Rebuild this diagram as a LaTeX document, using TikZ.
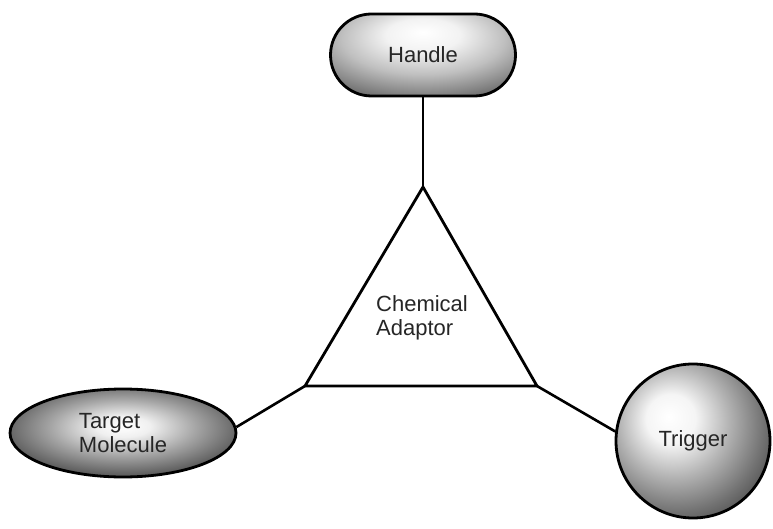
\documentclass[tikz,border=0pt]{standalone}
\usepackage{fontspec}
\setmainfont{Liberation Sans}
\usetikzlibrary{shapes.geometric,shapes.misc}
\pgfdeclareradialshading{ballshade}{\pgfpoint{-8bp}{8bp}}{color(0bp)=(white); color(8bp)=(white!96!black); color(18bp)=(black!30); color(28bp)=(black!55); color(38bp)=(black!78); color(47bp)=(black!92); color(80bp)=(black)}
\pgfdeclareradialshading{pillshade}{\pgfpoint{0bp}{14bp}}{color(0bp)=(white); color(10bp)=(white!95!black); color(22bp)=(black!25); color(32bp)=(black!48); color(42bp)=(black!72); color(52bp)=(black!90); color(80bp)=(black)}
\pgfdeclareradialshading{ovalshade}{\pgfpoint{0bp}{4bp}}{color(0bp)=(white); color(6bp)=(white!94!black); color(16bp)=(black!35); color(26bp)=(black!62); color(36bp)=(black!85); color(46bp)=(black!95); color(80bp)=(black)}
\tikzset{
  lbl/.style={font=\fontsize{22}{24}\selectfont, text=black!85},
  blob/.style={lbl, draw=black, line width=2.8pt, inner sep=0pt},
  conn/.style={line width=2.6pt, draw=black},
}
\begin{document}
\begin{tikzpicture}[x=1pt,y=-1pt]
\useasboundingbox (0,0) rectangle (773,529);
\node[blob, rounded rectangle, shading=pillshade, minimum width=185pt, minimum height=82pt] (handle) at (423,55) {Handle};
\node[blob, ellipse, shading=ovalshade, minimum width=226pt, minimum height=88pt, align=left] (target) at (123,433) {Target\\Molecule};
\node[blob, circle, shading=ballshade, minimum size=154pt] (trigger) at (693,441) {Trigger};
\coordinate (apex) at (423,187);
\coordinate (bl) at (305,386);
\coordinate (br) at (537,386);
\draw[line width=2.8pt, line join=miter] (apex) -- (bl) -- (br) -- cycle;
\node[lbl, align=left] (adaptor) at (422,318) {Chemical\\Adaptor};
\draw[conn] (handle.south) -- (apex);
\draw[conn] (bl) -- (target.3);
\draw[conn] (br) -- (trigger.173);
\end{tikzpicture}
\end{document}
